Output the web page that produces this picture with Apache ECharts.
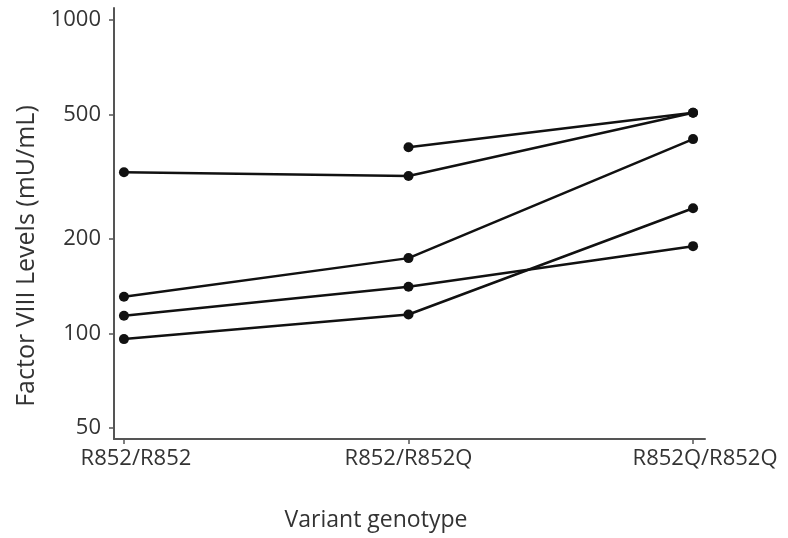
<!DOCTYPE html>
<html>
<head>
<meta charset="utf-8">
<script src="https://cdn.jsdelivr.net/npm/echarts@6/dist/echarts.min.js"></script>
<style>
  html, body { margin: 0; padding: 0; background: #fff; }
  #main { width: 788px; height: 538px; }
</style>
</head>
<body>
<div id="main"></div>
<script>
// genotype categories on the x axis
var genotypes = ['R852/R852', 'R852/R852Q', 'R852Q/R852Q']
// y tick values (log scale)
var yTicks = [50, 100, 200, 500, 1000]
// one line per family, values in mU/mL (null = not measured)
var family1 = [327, 318, 506]
var family2 = [null, 393, 506]
var family3 = [131, 174, 417]
var family4 = [114, 141, 190]
var family5 = [96, 115, 251]
var families = [family1, family2, family3, family4, family5]

var font = '"Open Sans", "Noto Sans", sans-serif'
var textColor = '#333'

var myChart = echarts.init(document.getElementById('main'))

function toPoints(arr) {
  var pts = []
  arr.forEach(function (v, i) {
    if (v !== null) pts.push([i, v])
  })
  return pts
}

myChart.setOption({
  animation: false,
  grid: {
    left: 114,
    right: 83,
    top: 8,
    bottom: 99
  },
  xAxis: {
    type: 'value',
    min: -0.035,
    max: 2.042,
    splitLine: { show: false },
    axisLine: { onZero: false, lineStyle: { color: '#555', width: 2 } },
    axisTick: {
      customValues: [0, 1, 2],
      length: 5,
      lineStyle: { color: '#555', width: 1.5 }
    },
    axisLabel: {
      customValues: [0, 1, 2],
      margin: 9,
      fontFamily: font,
      fontSize: 22,
      color: textColor,
      formatter: function (v) {
        var i = Math.round(v)
        // outer labels sit a little right of their ticks in the original
        return i === 1 ? '{m|' + genotypes[i] + '}' : '{s|' + genotypes[i] + '}'
      },
      rich: {
        m: { fontFamily: font, fontSize: 22, color: textColor },
        s: { fontFamily: font, fontSize: 22, color: textColor, padding: [0, 0, 0, 24] }
      }
    }
  },
  yAxis: {
    type: 'log',
    logBase: 10,
    min: 46.1,
    max: 1092,
    splitLine: { show: false },
    axisLine: { show: true, onZero: false, lineStyle: { color: '#555', width: 2 } },
    axisTick: {
      show: true,
      customValues: yTicks,
      length: 5,
      lineStyle: { color: '#555', width: 1.5 }
    },
    axisLabel: {
      customValues: yTicks,
      margin: 13,
      fontFamily: font,
      fontSize: 22,
      color: textColor,
      formatter: function (v) {
        return String(Math.round(v))
      }
    }
  },
  graphic: [
    {
      type: 'text',
      x: 27,
      y: 256,
      rotation: Math.PI / 2,
      style: {
        text: 'Factor VIII Levels (mU/mL)',
        fontFamily: font,
        fontSize: 25,
        fill: textColor,
        align: 'center',
        verticalAlign: 'middle'
      }
    },
    {
      type: 'text',
      x: 376,
      y: 520,
      style: {
        text: 'Variant genotype',
        fontFamily: font,
        fontSize: 23,
        fill: textColor,
        align: 'center',
        verticalAlign: 'middle'
      }
    }
  ],
  series: families.map(function (arr, i) {
    return {
      name: 'family' + (i + 1),
      type: 'line',
      data: toPoints(arr),
      symbol: 'circle',
      symbolSize: 10,
      lineStyle: { color: '#111', width: 2.5 },
      itemStyle: { color: '#111' }
    }
  })
})
</script>
</body>
</html>
